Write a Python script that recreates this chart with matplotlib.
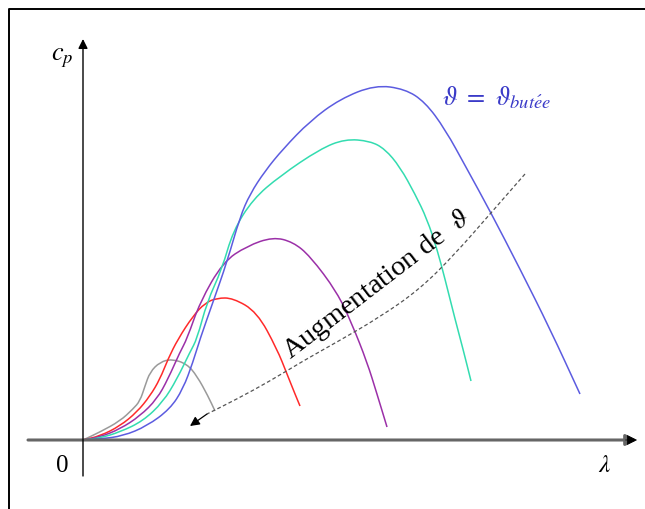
import matplotlib.pyplot as plt
from matplotlib.path import Path
from matplotlib.patches import PathPatch

plt.rcParams['mathtext.fontset'] = 'stix'
plt.rcParams['font.family'] = ['Liberation Serif', 'DejaVu Serif']

lam_gris = [0, 0.34, 0.74, 1.00, 1.14, 1.24, 1.34, 1.54, 1.78, 2.08, 2.28, 2.50, 2.64]
cp_gris = [0, .008, .019, .031, .039, .054, .068, .078, .081, .076, .064, .044, .029]

lam_rouge = [0, .34, .74, 1.08, 1.34, 1.54, 1.70, 1.90, 2.20, 2.44, 2.68, 3.00, 3.48, 3.88, 4.08, 4.24, 4.34]
cp_rouge = [0, .004, .014, .028, .044, .061, .081, .101, .124, .137, .142, .142, .128, .091, .066, .046, .034]

lam_violet = [0, .34, .74, 1.14, 1.48, 1.70, 1.94, 2.08, 2.34, 2.80, 3.28, 3.80, 4.20, 4.54, 5.08, 5.38, 5.68, 5.88, 6.08]
cp_violet = [0, .003, .011, .024, .041, .061, .088, .101, .138, .178, .194, .203, .198, .184, .148, .116, .078, .046, .013]

lam_turq = [0, .34, .74, 1.20, 1.60, 1.88, 2.14, 2.28, 2.48, 2.78, 3.00, 3.40, 3.94, 4.74, 5.24, 5.74,
            6.04, 6.34, 6.64, 6.88, 7.08, 7.24, 7.44, 7.60, 7.76]
cp_turq = [0, .002, .008, .019, .038, .061, .088, .101, .138, .171, .209, .241, .264, .291, .301, .299,
           .291, .273, .246, .221, .191, .161, .121, .091, .059]

lam_bleu = [0, .34, .80, 1.28, 1.74, 2.00, 2.20, 2.34, 2.60, 2.88, 3.14, 3.34, 3.64, 4.00, 4.54, 5.14,
            5.84, 6.44, 6.84, 7.24, 7.68, 8.14, 8.74, 9.34, 9.94]
cp_bleu = [0, .001, .004, .014, .031, .051, .078, .101, .138, .178, .223, .246, .269, .291, .319, .341,
           .355, .351, .338, .311, .271, .229, .171, .111, .046]

# fleche "augmentation de theta"
lam_fleche = [8.84, 8.14, 7.44, 6.74, 5.94, 5.08, 4.40, 3.74, 3.08, 2.48, 2.14]
cp_fleche = [.266, .226, .186, .151, .123, .098, .079, .059, .041, .026, .014]


def courbe(ax, xs, ys, **kw):
    # trace lisse (bezier quadratique) passant par les milieux des points
    pts = list(zip(xs, ys))
    verts = [pts[0], ((pts[0][0] + pts[1][0]) / 2, (pts[0][1] + pts[1][1]) / 2)]
    codes = [Path.MOVETO, Path.LINETO]
    for i in range(1, len(pts) - 1):
        mid = ((pts[i][0] + pts[i + 1][0]) / 2, (pts[i][1] + pts[i + 1][1]) / 2)
        verts += [pts[i], mid]
        codes += [Path.CURVE3, Path.CURVE3]
    verts.append(pts[-1])
    codes.append(Path.LINETO)
    ax.add_patch(PathPatch(Path(verts, codes), fill=False, **kw))


fig = plt.figure(figsize=(6.45, 5.1), dpi=100)
ax = fig.add_axes([0, 0, 1, 1])
ax.set_xlim(-1.66, 11.24)
ax.set_ylim(-0.069, 0.441)
ax.axis('off')

# cadre
ax.plot([-1.48, -1.48, 12], [-0.2, 0.431, 0.431], color='black', lw=1.4, clip_on=False)

# axes
ax.annotate('', xy=(11.08, 0), xytext=(-1.10, 0),
            arrowprops=dict(arrowstyle='-|>', color='#666666', lw=2.2, mutation_scale=16,
                            shrinkA=0, shrinkB=0))
ax.annotate('', xy=(11.08, 0), xytext=(10.85, 0),
            arrowprops=dict(arrowstyle='-|>', color='black', lw=0.5, mutation_scale=16,
                            shrinkA=0, shrinkB=0))
ax.annotate('', xy=(0, 0.401), xytext=(0, -0.036),
            arrowprops=dict(arrowstyle='-|>', color='black', lw=1.0, mutation_scale=14,
                            shrinkA=0, shrinkB=0))

courbe(ax, lam_gris, cp_gris, edgecolor='#9a9a9a', lw=1.1)
courbe(ax, lam_rouge, cp_rouge, edgecolor='#ff2a2a', lw=1.1)
courbe(ax, lam_violet, cp_violet, edgecolor='#9b30a8', lw=1.1)
courbe(ax, lam_turq, cp_turq, edgecolor='#33dcb0', lw=1.1)
courbe(ax, lam_bleu, cp_bleu, edgecolor='#5c5ce0', lw=1.1)

courbe(ax, lam_fleche[:-1], cp_fleche[:-1], edgecolor='#555555', lw=0.9, linestyle=(0, (3, 2)))
ax.annotate('', xy=(lam_fleche[-1], cp_fleche[-1]), xytext=(lam_fleche[-2], cp_fleche[-2]),
            arrowprops=dict(arrowstyle='-|>', color='black', lw=0.9, mutation_scale=14,
                            shrinkA=0, shrinkB=0))

ax.text(4.14, 0.081, r'Augmentation de  $\vartheta$', fontsize=20.5, rotation=37.5,
        rotation_mode='anchor', ha='left', va='baseline', color='black')
ax.text(7.18, 0.336, r'$\vartheta\ =\ \vartheta_{but\acute{e}e}$', fontsize=19,
        ha='left', va='baseline', color='#3b3bc8')

ax.text(-0.42, 0.383, r'$c_p$', fontsize=19, ha='center', va='center')
ax.text(-0.42, -0.025, '0', fontsize=18, ha='center', va='center')
ax.text(10.44, -0.025, r'$\lambda$', fontsize=18, ha='center', va='center')

fig.savefig('out.png', dpi=100)
